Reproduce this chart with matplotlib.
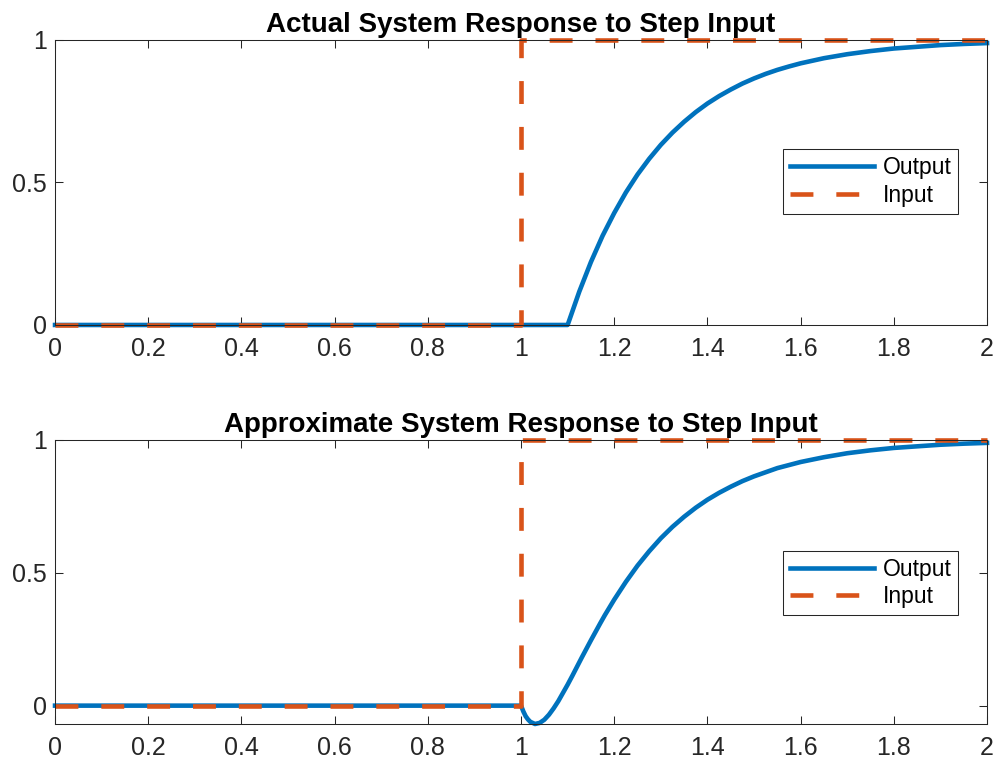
import matplotlib
matplotlib.use('Agg')
import matplotlib.pyplot as plt

plt.rcParams['font.family'] = ['Liberation Sans', 'DejaVu Sans']

# step input: zero until t = 1, then one
t_in = [0, 1, 1, 2]
u_in = [0, 0, 1, 1]

# delayed first-order system, output
t_act = [0, 1.1, 1.125, 1.15, 1.175, 1.2, 1.225, 1.25, 1.275, 1.3, 1.325,
         1.35, 1.375, 1.4, 1.425, 1.45, 1.475, 1.5, 1.525, 1.55, 1.575, 1.6,
         1.65, 1.7, 1.75, 1.8, 1.85, 1.9, 1.95, 2.0]
y_act = [0, 0, 0.117, 0.221, 0.313, 0.393, 0.465, 0.528, 0.583, 0.632, 0.675,
         0.713, 0.747, 0.777, 0.803, 0.826, 0.847, 0.865, 0.881, 0.895, 0.907,
         0.918, 0.936, 0.950, 0.961, 0.970, 0.976, 0.982, 0.986, 0.989]

# Pade approximation of the delay: small undershoot right after the step
t_apx = [0, 1.0, 1.005, 1.01, 1.015, 1.02, 1.03, 1.04, 1.05, 1.06, 1.07,
         1.08, 1.09, 1.1, 1.11, 1.12, 1.13, 1.14, 1.15, 1.16, 1.17, 1.18, 1.19,
         1.2, 1.225, 1.25, 1.275, 1.3, 1.325, 1.35, 1.375, 1.4, 1.425, 1.45,
         1.475, 1.5, 1.55, 1.6, 1.65, 1.7, 1.75, 1.8, 1.85, 1.9, 1.95, 2.0]
y_apx = [0, 0, -0.022, -0.040, -0.052, -0.061, -0.069, -0.065, -0.053, -0.034,
         -0.010, 0.017, 0.048, 0.079, 0.112, 0.146, 0.180, 0.213, 0.246, 0.278,
         0.310, 0.341, 0.370, 0.399, 0.466, 0.527, 0.581, 0.630, 0.673, 0.711,
         0.745, 0.775, 0.801, 0.824, 0.845, 0.863, 0.894, 0.917, 0.935, 0.950,
         0.961, 0.970, 0.976, 0.982, 0.986, 0.989]

xticks = [0, 0.2, 0.4, 0.6, 0.8, 1, 1.2, 1.4, 1.6, 1.8, 2]
xlabels = ['0', '0.2', '0.4', '0.6', '0.8', '1', '1.2', '1.4', '1.6', '1.8', '2']
yticks = [0, 0.5, 1]

blue = '#0072BD'
orange = '#D95319'
dark = '#262626'

fig = plt.figure(figsize=(9.97, 7.67), dpi=100)
ax1 = fig.add_axes([0.0552, 0.5763, 0.9348, 0.3716])
ax2 = fig.add_axes([0.0552, 0.0561, 0.9348, 0.3703])

panels = [
    (ax1, t_act, y_act, 'Actual System Response to Step Input', 0.503),
    (ax2, t_apx, y_apx, 'Approximate System Response to Step Input', 0.4965),
]

for ax, t, y, title, ly in panels:
    ax.plot(t, y, color=blue, lw=3.3, label='Output', clip_on=False,
            solid_joinstyle='round')
    ax.plot(t_in, u_in, color=orange, lw=3.3, ls=(0, (5, 5)), label='Input',
            clip_on=False)
    ax.set_xlim(0, 2)
    ax.set_ylim(min(min(y), 0), 1)
    ax.set_xticks(xticks)
    ax.set_xticklabels(xlabels)
    ax.set_yticks(yticks)
    ax.set_yticklabels(['0', '0.5', '1'])
    ax.tick_params(direction='in', length=5.8, width=0.75, colors=dark,
                   labelsize=18, top=True, right=True)
    ax.tick_params(axis='x', pad=9)
    ax.tick_params(axis='y', pad=6)
    for s in ax.spines.values():
        s.set_color(dark)
        s.set_linewidth(0.75)
    ax.set_title(title, fontsize=20, fontweight='bold', color='black', pad=6)
    leg = ax.legend(loc='center right', bbox_to_anchor=(0.969, ly),
                    fontsize=16.5, handlelength=3.7, handletextpad=0.35,
                    borderpad=0.3, labelspacing=0.2, borderaxespad=0,
                    fancybox=False, framealpha=1, edgecolor=dark)
    leg.get_frame().set_linewidth(0.75)
    for txt in leg.get_texts():
        txt.set_color('black')

fig.savefig('out.png', dpi=100)
